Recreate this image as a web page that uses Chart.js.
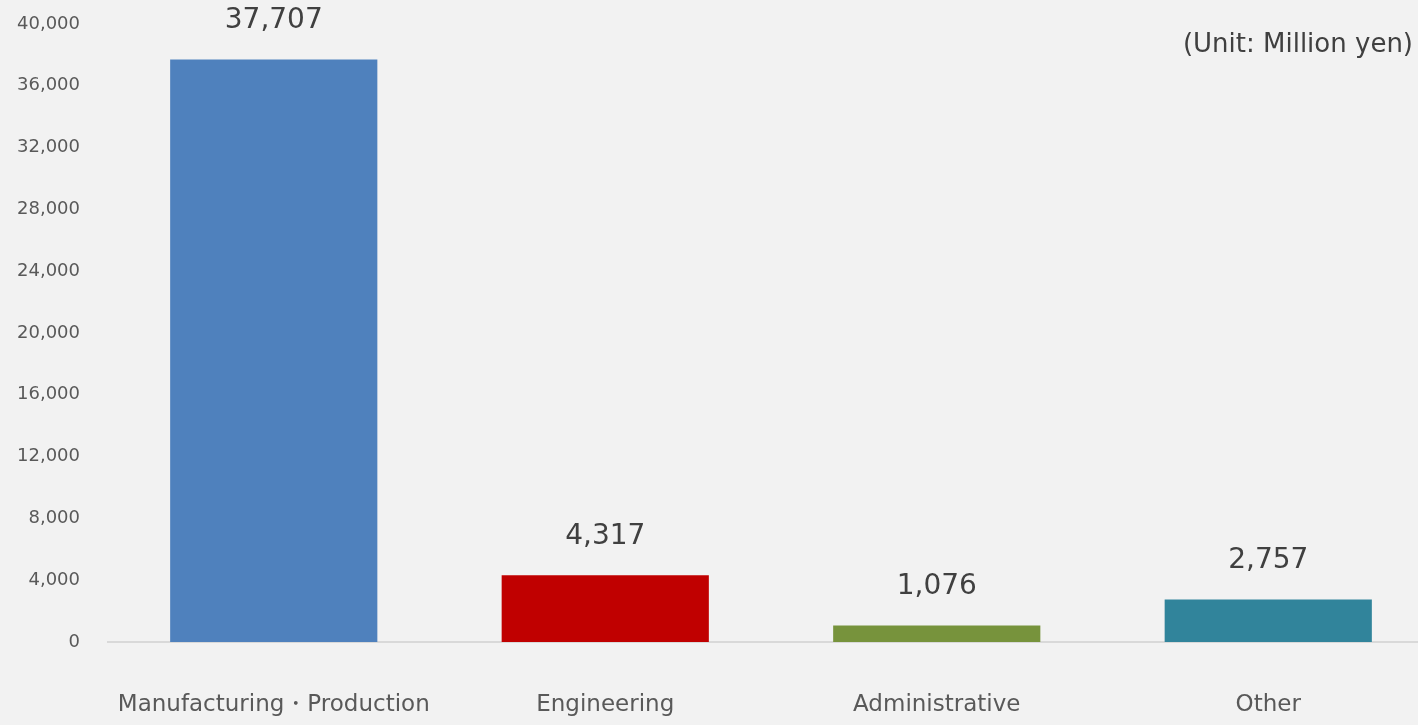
<!DOCTYPE html>
<html lang="en">
<head>
    <meta charset="UTF-8">
    <title>Costs by Category</title>
    <script src="https://cdn.jsdelivr.net/npm/chart.js"></script>
    <style>
        html, body {
            margin: 0;
            padding: 0;
            background: #f2f2f2;
            overflow: hidden;
        }
        #chartBox {
            width: 1434px;
            height: 725px;
        }
    </style>
</head>
<body>
    <div id="chartBox">
        <canvas id="costChart"></canvas>
    </div>

    <script>
        const categories = ['Manufacturing・Production', 'Engineering', 'Administrative', 'Other'];
        const amounts = [37707, 4317, 1076, 2757];
        const barColors = ['#4f81bd', '#c00000', '#77933c', '#31849b'];
        const yTicks = [0, 4000, 8000, 12000, 16000, 20000, 24000, 28000, 32000, 36000, 40000];
        const unitNote = '(Unit: Million yen)';

        const fontName = '"DejaVu Sans", Verdana, sans-serif';

        // value labels over bars + unit note at the top right
        const labelPlugin = {
            id: 'labelPlugin',
            afterDatasetsDraw(chart) {
                const ctx = chart.ctx;
                const meta = chart.getDatasetMeta(0);
                ctx.save();
                ctx.fillStyle = '#404040';
                ctx.font = '28px ' + fontName;
                ctx.textAlign = 'center';
                ctx.textBaseline = 'middle';
                meta.data.forEach((bar, i) => {
                    ctx.fillText(amounts[i].toLocaleString('en-US'), bar.x, bar.y - 39);
                });
                ctx.font = '26px ' + fontName;
                ctx.textAlign = 'right';
                ctx.fillText(unitNote, 1413, 45);
                ctx.restore();
            }
        };

        new Chart(document.getElementById('costChart'), {
            type: 'bar',
            data: {
                labels: categories,
                datasets: [{
                    data: amounts,
                    backgroundColor: barColors,
                    borderWidth: 0,
                    barPercentage: 1,
                    categoryPercentage: 0.625
                }]
            },
            options: {
                responsive: true,
                maintainAspectRatio: false,
                animation: false,
                layout: { padding: { top: 24, right: 0, left: 0, bottom: 0 } },
                plugins: {
                    legend: { display: false },
                    tooltip: { enabled: false }
                },
                scales: {
                    x: {
                        grid: { display: false, drawTicks: false },
                        border: { display: true, color: '#d9d9d9', width: 2 },
                        ticks: {
                            color: '#595959',
                            font: { family: fontName, size: 23 },
                            padding: 49,
                            maxRotation: 0,
                            autoSkip: false
                        },
                        afterFit(scale) { scale.height = 83; }
                    },
                    y: {
                        min: 0,
                        max: 40000,
                        afterBuildTicks(scale) {
                            scale.ticks = yTicks.map(v => ({ value: v }));
                        },
                        grid: { display: false, drawTicks: false },
                        border: { display: false },
                        ticks: {
                            color: '#595959',
                            font: { family: fontName, size: 18 },
                            padding: 28,
                            callback: v => v.toLocaleString('en-US')
                        },
                        afterFit(scale) {
                            scale.width = 108;
                            scale.paddingTop = 0;
                            scale.paddingBottom = 0;
                        }
                    }
                }
            },
            plugins: [labelPlugin]
        });
    </script>
</body>
</html>
